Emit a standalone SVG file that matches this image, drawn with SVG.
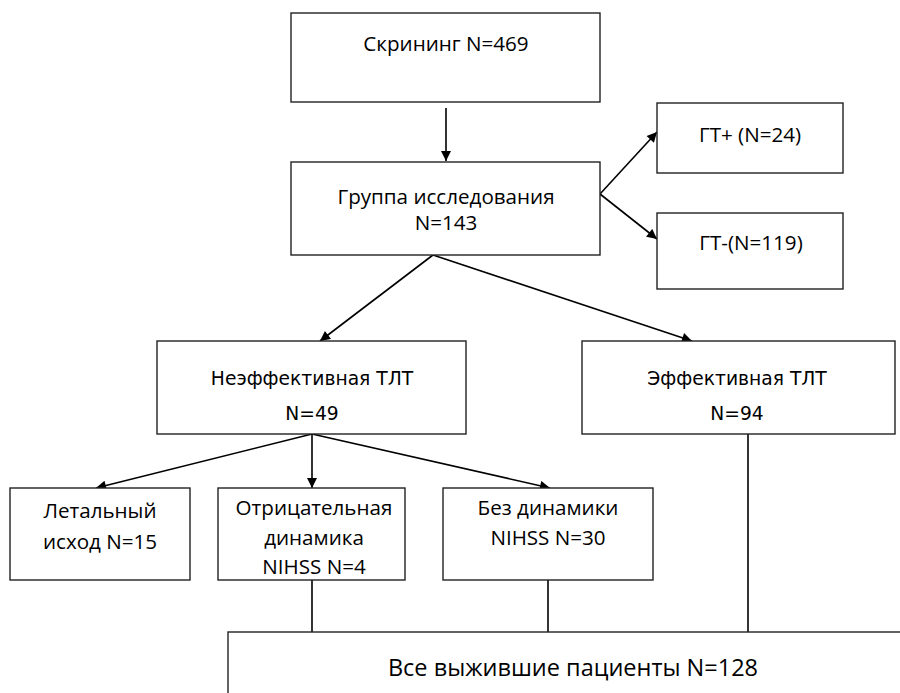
<svg xmlns="http://www.w3.org/2000/svg" width="900" height="693" viewBox="0 0 900 693">
<defs>
<style>
.box{fill:#fff;stroke:#222;stroke-width:1.4}
.t{font-family:"Open Sans","Liberation Sans",sans-serif;font-size:20.6px;fill:#000;text-anchor:middle}
.n{font-family:"DejaVu Sans","Liberation Sans",sans-serif;font-size:18.7px;fill:#000;text-anchor:middle}
.b{font-family:"Open Sans","Liberation Sans",sans-serif;font-size:23.5px;fill:#000;text-anchor:middle}
.c{fill:none;stroke:#000;stroke-width:1.6}
</style>
<marker id="ah" viewBox="0 0 10 10" refX="10" refY="5" markerWidth="11" markerHeight="10" markerUnits="userSpaceOnUse" orient="auto"><path d="M0,0 L10,5 L0,10 z" fill="#000"/></marker>
</defs>
<rect width="900" height="693" fill="#fff"/>
<g id="connectors">
<line class="c" x1="446" y1="108" x2="446" y2="161" marker-end="url(#ah)"/>
<line class="c" x1="600" y1="194" x2="657" y2="132" marker-end="url(#ah)"/>
<line class="c" x1="600" y1="194" x2="657" y2="239" marker-end="url(#ah)"/>
<line class="c" x1="433" y1="255" x2="320" y2="341" marker-end="url(#ah)"/>
<line class="c" x1="433" y1="255" x2="692" y2="341" marker-end="url(#ah)"/>
<line class="c" x1="312" y1="434" x2="96" y2="488" marker-end="url(#ah)"/>
<line class="c" x1="312" y1="434" x2="312" y2="488" marker-end="url(#ah)"/>
<line class="c" x1="312" y1="434" x2="550" y2="488" marker-end="url(#ah)"/>
<line class="c" x1="312" y1="580" x2="312" y2="632"/>
<line class="c" x1="548" y1="580" x2="548" y2="632"/>
<line class="c" x1="748" y1="434" x2="748" y2="632"/>
</g>
<g id="screening"><rect class="box" x="291" y="13" width="309" height="89"/><text class="t" x="446" y="51">Скрининг N=469</text></g>
<g id="study"><rect class="box" x="291" y="162" width="309" height="93"/><text class="t" x="446" y="204">Группа исследования</text><text class="t" x="446" y="230">N=143</text></g>
<g id="gtplus"><rect class="box" x="657" y="103" width="186" height="70"/><text class="t" x="750" y="142">ГТ+ (N=24)</text></g>
<g id="gtminus"><rect class="box" x="657" y="213" width="186" height="76"/><text class="t" x="751" y="250">ГТ-(N=119)</text></g>
<g id="ineff"><rect class="box" x="157" y="341" width="309" height="93"/><text class="n" x="312" y="385">Неэффективная ТЛТ</text><text class="n" x="312" y="420">N=49</text></g>
<g id="eff"><rect class="box" x="582" y="341" width="313" height="93"/><text class="n" x="737" y="385">Эффективная ТЛТ</text><text class="n" x="737" y="420">N=94</text></g>
<g id="lethal"><rect class="box" x="10" y="488" width="180" height="92"/><text class="t" x="100" y="518">Летальный</text><text class="t" x="100" y="549">исход N=15</text></g>
<g id="negative"><rect class="box" x="218" y="488" width="187" height="92"/><text class="t" x="314" y="515">Отрицательная</text><text class="t" x="314" y="545">динамика</text><text class="t" x="314" y="574">NIHSS N=4</text></g>
<g id="nodyn"><rect class="box" x="443" y="488" width="210" height="92"/><text class="t" x="548" y="515">Без динамики</text><text class="t" x="548" y="545">NIHSS N=30</text></g>
<g id="survivors"><rect class="box" x="228" y="632" width="700" height="100"/><text class="b" x="573" y="676">Все выжившие пациенты N=128</text></g>
</svg>
